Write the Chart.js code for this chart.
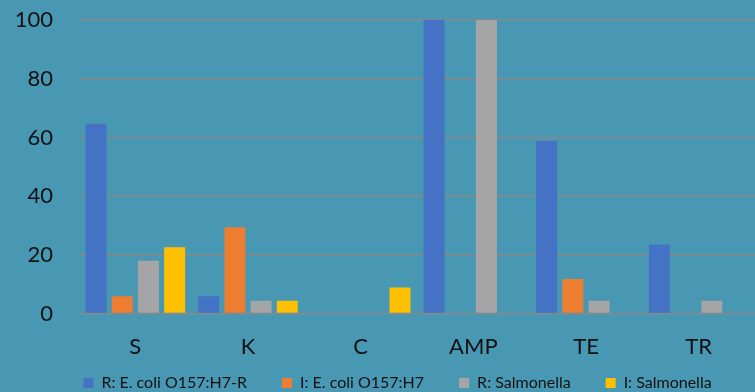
<!DOCTYPE html>
<html>
<head>
<meta charset="utf-8">
<script src="https://cdn.jsdelivr.net/npm/chart.js@4"></script>
<style>
  html, body { margin: 0; padding: 0; background: #4898b4; width: 755px; height: 392px; overflow: hidden; }
  /* 画布比窗口略高，图例下方多余的留白被裁掉 */
  #wrap { width: 755px; height: 433px; position: relative; }
</style>
</head>
<body>
<div id="wrap"><canvas id="c"></canvas></div>
<script>
// 抗生素类别
const categories = ['S', 'K', 'C', 'AMP', 'TE', 'TR'];
// 各系列数值 (%)
const rEcoli = [64.7, 5.9, 0, 100, 58.8, 23.5];
const iEcoli = [5.9, 29.4, 0, 0, 11.8, 0];
const rSalm = [18, 4.4, 0, 100, 4.4, 4.4];
const iSalm = [22.6, 4.4, 8.9, 0, 0, 0];
const yTicks = [0, 20, 40, 60, 80, 100];

const FONT = "Lato, 'Open Sans', sans-serif";
const LEGEND_DY = 32, LEGEND_DX = 20;
const ds = (label, data, color) => ({label, data, backgroundColor: color, borderWidth: 0, categoryPercentage: 0.93, barPercentage: 0.8});

// 图例整体上移/右移，保留较大的水平间距
const legendShift = {
  id: 'legendShift',
  afterLayout(chart) {
    const lg = chart.legend;
    lg.top -= LEGEND_DY; lg.bottom -= LEGEND_DY;
    lg.left += LEGEND_DX; lg.right += LEGEND_DX;
  }
};

new Chart(document.getElementById('c'), {
  type: 'bar',
  data: {
    labels: categories,
    datasets: [
      ds('R: E. coli O157:H7-R', rEcoli, '#4472c4'),
      ds('I: E. coli O157:H7', iEcoli, '#ed7d31'),
      ds('R: Salmonella', rSalm, '#a5a5a5'),
      ds('I: Salmonella', iSalm, '#ffc000')
    ]
  },
  plugins: [legendShift],
  options: {
    responsive: true,
    maintainAspectRatio: false,
    animation: false,
    layout: {padding: {top: 20, right: 0, left: 0, bottom: 0}},
    plugins: {
      tooltip: {enabled: false},
      legend: {
        position: 'bottom',
        labels: {boxWidth: 10, boxHeight: 10, padding: 35, color: '#111', font: {family: FONT, size: 16}}
      }
    },
    scales: {
      x: {
        afterFit: s => { s.paddingLeft = 0; s.paddingRight = 0; },
        grid: {display: false},
        border: {display: false},
        ticks: {color: '#111', padding: 12, font: {family: FONT, size: 22}}
      },
      y: {
        min: 0, max: 100,
        afterFit: s => { s.width = 79; s.paddingTop = 0; s.paddingBottom = 0; },
        afterBuildTicks: s => { s.ticks = yTicks.map(v => ({value: v})); },
        grid: {color: '#878787', lineWidth: 1.5, drawTicks: false},
        border: {display: false},
        ticks: {color: '#111', padding: 26, font: {family: FONT, size: 22}}
      }
    }
  }
});
</script>
</body>
</html>
